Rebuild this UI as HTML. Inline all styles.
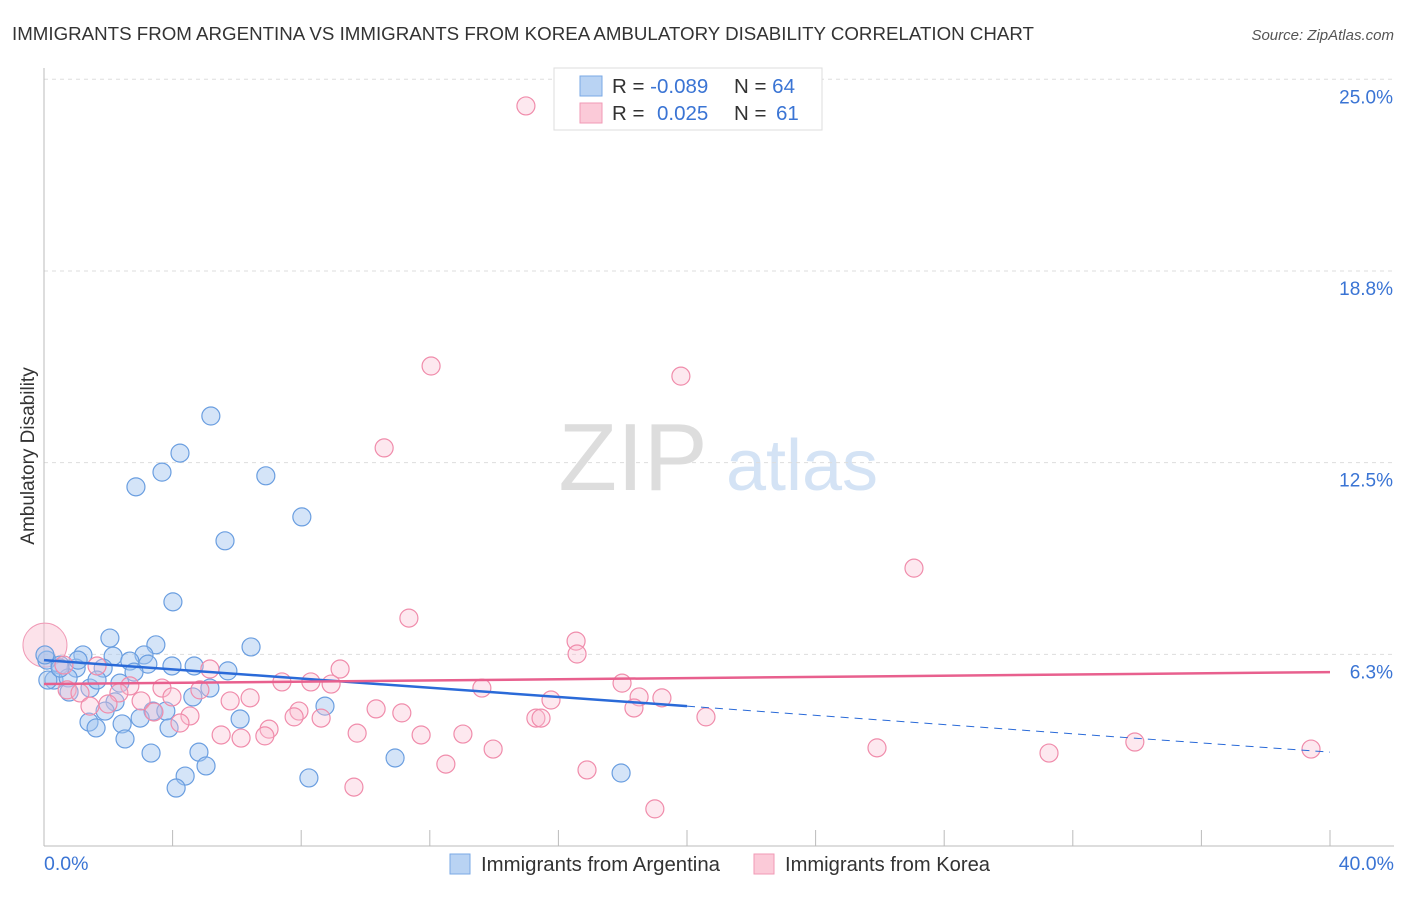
<!DOCTYPE html>
<html><head><meta charset="utf-8"><style>
body{margin:0;background:#fff;font-family:"Liberation Sans",sans-serif;}
svg text{font-family:"Liberation Sans",sans-serif;}
</style></head><body>
<svg id="c" width="1406" height="892">
<text x="12" y="40" font-size="18.5" fill="#333" textLength="1022" lengthAdjust="spacingAndGlyphs">IMMIGRANTS FROM ARGENTINA VS IMMIGRANTS FROM KOREA AMBULATORY DISABILITY CORRELATION CHART</text>
<text x="1394" y="40" font-size="15" fill="#555" font-style="italic" text-anchor="end">Source: ZipAtlas.com</text>
<text x="633" y="490" font-size="96" fill="#ddd" font-family="Liberation Serif" text-anchor="middle">ZIP</text>
<text x="802" y="490" font-size="72" fill="#d4e3f5" text-anchor="middle">atlas</text>
<text transform="translate(34,456) rotate(-90)" font-size="19" fill="#333" text-anchor="middle">Ambulatory Disability</text>
<g id="grid"></g><g id="axes"></g><g id="pts"></g><g id="trend"></g>
<g>
<rect x="554" y="68" width="268" height="62" fill="#fff" stroke="#ddd"/>
<rect x="580" y="76" width="22" height="20" fill="#b9d3f3" stroke="#7aa8e6"/>
<rect x="580" y="103" width="22" height="20" fill="#fbcad8" stroke="#f09ab6"/>
<text x="612" y="93" font-size="20.5" fill="#333">R = <tspan fill="#3a74d4">-0.089</tspan></text>
<text x="734" y="93" font-size="20.5" fill="#333">N = <tspan fill="#3a74d4">64</tspan></text>
<text x="612" y="120" font-size="20.5" fill="#333">R = <tspan fill="#3a74d4" x="657">0.025</tspan></text>
<text x="734" y="120" font-size="20.5" fill="#333">N = <tspan fill="#3a74d4" x="776">61</tspan></text>
</g>
<g>
<rect x="450" y="854" width="20" height="20" fill="#b9d3f3" stroke="#7aa8e6"/>
<text x="481" y="871" font-size="20" fill="#333" textLength="239" lengthAdjust="spacingAndGlyphs">Immigrants from Argentina</text>
<rect x="754" y="854" width="20" height="20" fill="#fbcad8" stroke="#f09ab6"/>
<text x="785" y="871" font-size="20" fill="#333" textLength="205" lengthAdjust="spacingAndGlyphs">Immigrants from Korea</text>
</g>
<text x="44" y="870" font-size="19.5" fill="#3a74d4">0.0%</text>
<text x="1394" y="870" font-size="19.5" fill="#3a74d4" text-anchor="end">40.0%</text>
</svg>
<script>
const yTicks=[25.0,18.8,12.5,6.3];
const yTickVals=[25,18.75,12.5,6.25];
const xTickVals=[0,4,8,12,16,20,24,28,32,36,40];
const argX=[5.19,4.23,3.67,2.86,6.90,8.02,5.63,4.01,2.05,3.48,6.44,1.21,2.15,3.11,3.98,4.67,5.72,0.09,0.50,1.00,1.84,2.67,3.23,2.80,0.31,0.75,1.43,2.36,5.16,4.63,0.78,2.21,1.90,3.39,3.79,8.74,6.10,1.40,1.62,2.43,2.99,3.89,2.52,4.82,3.33,5.04,4.39,4.11,8.24,10.92,17.95,0.12,0.50,1.06,1.65,0.03];
const argY=[14.02,12.81,12.19,11.71,12.07,10.73,9.95,7.96,6.78,6.56,6.49,6.23,6.19,6.23,5.87,5.87,5.71,6.06,5.90,5.80,5.80,6.03,5.93,5.67,5.41,5.48,5.15,5.31,5.15,4.86,5.02,4.70,4.40,4.40,4.40,4.56,4.14,4.04,3.85,3.98,4.17,3.85,3.49,3.06,3.03,2.61,2.28,1.89,2.22,2.87,2.38,5.41,5.80,6.06,5.41,6.23];
const korX=[14.99,12.04,19.81,10.58,27.06,11.35,16.55,16.58,9.21,5.16,1.65,0.62,0.72,1.12,2.67,3.67,7.40,8.30,8.93,13.62,17.98,18.51,19.22,15.77,6.41,5.79,3.98,3.02,2.33,1.43,1.99,4.85,7.93,3.42,10.33,11.13,18.35,20.59,15.30,15.46,4.54,4.23,7.78,8.62,7.00,9.74,5.51,6.13,6.87,11.73,13.03,13.97,25.91,31.26,33.93,39.41,12.50,16.89,9.64,19.00];
const korY=[24.13,15.65,15.32,12.98,9.06,7.43,6.68,6.26,5.77,5.77,5.87,5.90,5.09,4.99,5.22,5.15,5.35,5.35,5.28,5.15,5.31,4.86,4.83,4.76,4.83,4.73,4.86,4.73,4.99,4.56,4.63,5.09,4.40,4.37,4.47,4.34,4.50,4.21,4.17,4.17,4.24,4.01,4.21,4.17,3.81,3.68,3.62,3.52,3.59,3.62,3.65,3.16,3.20,3.03,3.39,3.16,2.67,2.48,1.92,1.21];
const bigKor=[0.03,6.55];
const argTrend=[6.06,3.06];
const korTrend=[5.28,5.67];
const NS='http://www.w3.org/2000/svg';
const X=v=>44+v/40*1286, Y=v=>846-v*30.67;
function mk(t,p,a){const e=document.createElementNS(NS,t);for(const k in a)e.setAttribute(k,a[k]);p.appendChild(e);return e;}
const grid=document.getElementById('grid'),axes=document.getElementById('axes'),pts=document.getElementById('pts'),tr=document.getElementById('trend');
yTickVals.forEach((v,i)=>{
 const l=mk('line',grid,{x1:44,x2:1394,y1:Y(v),y2:Y(v),stroke:'#ddd','stroke-dasharray':'4,4'});
 
 
 const t=mk('text',grid,{x:1393,y:Y(v)+24,'font-size':19,fill:'#3a74d4','text-anchor':'end'});
 t.textContent=yTicks[i].toFixed(1)+'%';
 
 
});
const ya=mk('line',axes,{x1:44,x2:44,y1:68,y2:846,stroke:'#bbb'});


const xa=mk('line',axes,{x1:44,x2:1394,y1:846,y2:846,stroke:'#bbb'});


xTickVals.forEach(v=>{const t=mk('line',axes,{x1:X(v),x2:X(v),y1:830,y2:846,stroke:'#bbb'});
 
 });
const bk=mk('circle',pts,{cx:X(bigKor[0]),cy:Y(bigKor[1]),r:22,fill:'rgba(248,190,208,0.45)',stroke:'#f09ab6'});


argX.forEach((x,i)=>{const c=mk('circle',pts,{cx:X(x),cy:Y(argY[i]),r:9,fill:'rgba(160,196,240,0.45)',stroke:'#6a9ee0','stroke-width':1.2});
 
 });
korX.forEach((x,i)=>{const c=mk('circle',pts,{cx:X(x),cy:Y(korY[i]),r:9,fill:'rgba(248,190,208,0.35)',stroke:'#f08cab','stroke-width':1.2});
 
 });
const ay=x=>argTrend[0]+(argTrend[1]-argTrend[0])*x/40;
const a1=mk('line',tr,{x1:X(0),y1:Y(ay(0)),x2:X(20),y2:Y(ay(20)),stroke:'#2a6ad8','stroke-width':2.5});


const a2=mk('line',tr,{x1:X(20),y1:Y(ay(20)),x2:X(40),y2:Y(ay(40)),stroke:'#2a6ad8','stroke-width':1,'stroke-dasharray':'8,6'});


const k1=mk('line',tr,{x1:X(0),y1:Y(korTrend[0]),x2:X(40),y2:Y(korTrend[1]),stroke:'#e8608e','stroke-width':2.5});


</script>
</body></html>
